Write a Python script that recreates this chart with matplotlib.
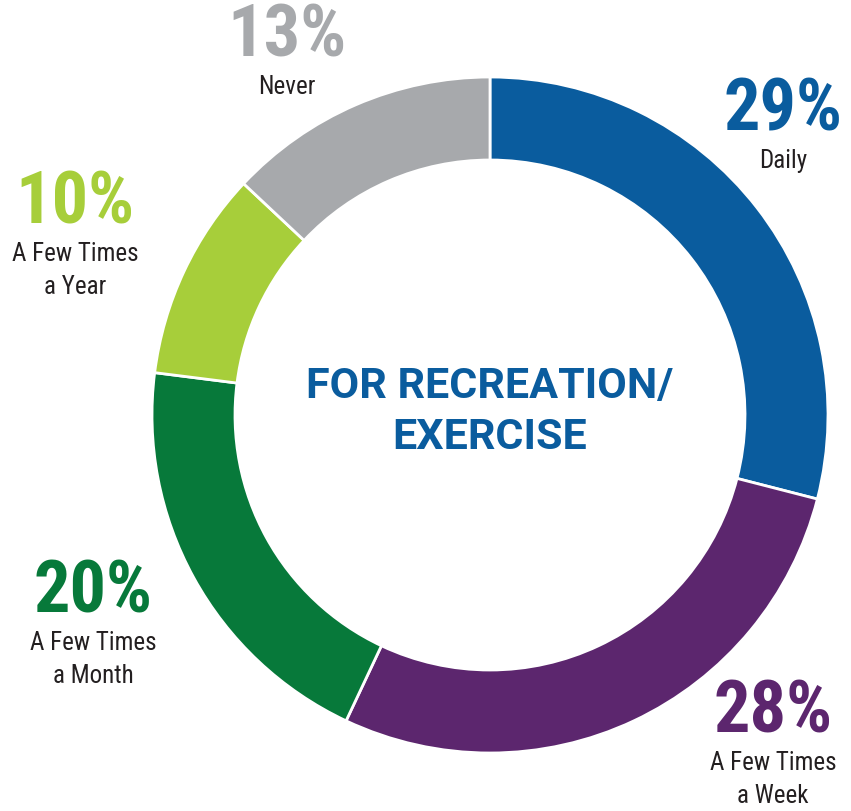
import matplotlib
matplotlib.use('Agg')
import matplotlib.pyplot as plt
from matplotlib import font_manager

# Donut chart: "For Recreation/Exercise" frequency breakdown
categories = ['Daily', 'A Few Times\na Week', 'A Few Times\na Month', 'A Few Times\na Year', 'Never']
values = [29, 28, 20, 10, 13]
colors = ['#0A5C9E', '#5C266E', '#07793A', '#A7CE3A', '#A7A9AC']
center_title = 'FOR RECREATION/\nEXERCISE'

# label anchor positions in pixel coords (x, y from top) - layout only
label_pos = [(783, 111), (773, 713), (93, 593), (75, 204), (287, 37)]

W, H = 851, 811


def pick_font(names):
    avail = {f.name for f in font_manager.fontManager.ttflist}
    for n in names:
        if n in avail:
            return n
    return 'DejaVu Sans'


narrow = pick_font(['Roboto Condensed', 'Liberation Sans Narrow', 'Roboto'])
bold = pick_font(['Roboto', 'Liberation Sans'])

fig = plt.figure(figsize=(W / 100, H / 100), dpi=100)
ax = fig.add_axes([0, 0, 1, 1])

cx, cy, r_out = 490, H - 415, 338
ax.pie(values, colors=colors, startangle=90, counterclock=False,
       center=(cx, cy), radius=r_out, frame=True,
       wedgeprops=dict(width=83, edgecolor='white', linewidth=2))
ax.set_xlim(0, W)
ax.set_ylim(0, H)
ax.set_aspect('equal')
ax.axis('off')

ax.text(cx, H - 412, center_title, ha='center', va='center', color='#0A5C9E',
        fontsize=31, fontweight='bold', family=bold, linespacing=1.3)

for cat, val, col, (px, py) in zip(categories, values, colors, label_pos):
    ax.text(px, H - py, f'{val}%', ha='center', va='center', color=col,
            fontsize=52, fontweight='bold', family=narrow)
    ax.text(px, H - py - 38, cat, ha='center', va='top', color='#231F20',
            fontsize=18, family=narrow, linespacing=1.45)

fig.savefig('out.png', dpi=100, facecolor='white')
